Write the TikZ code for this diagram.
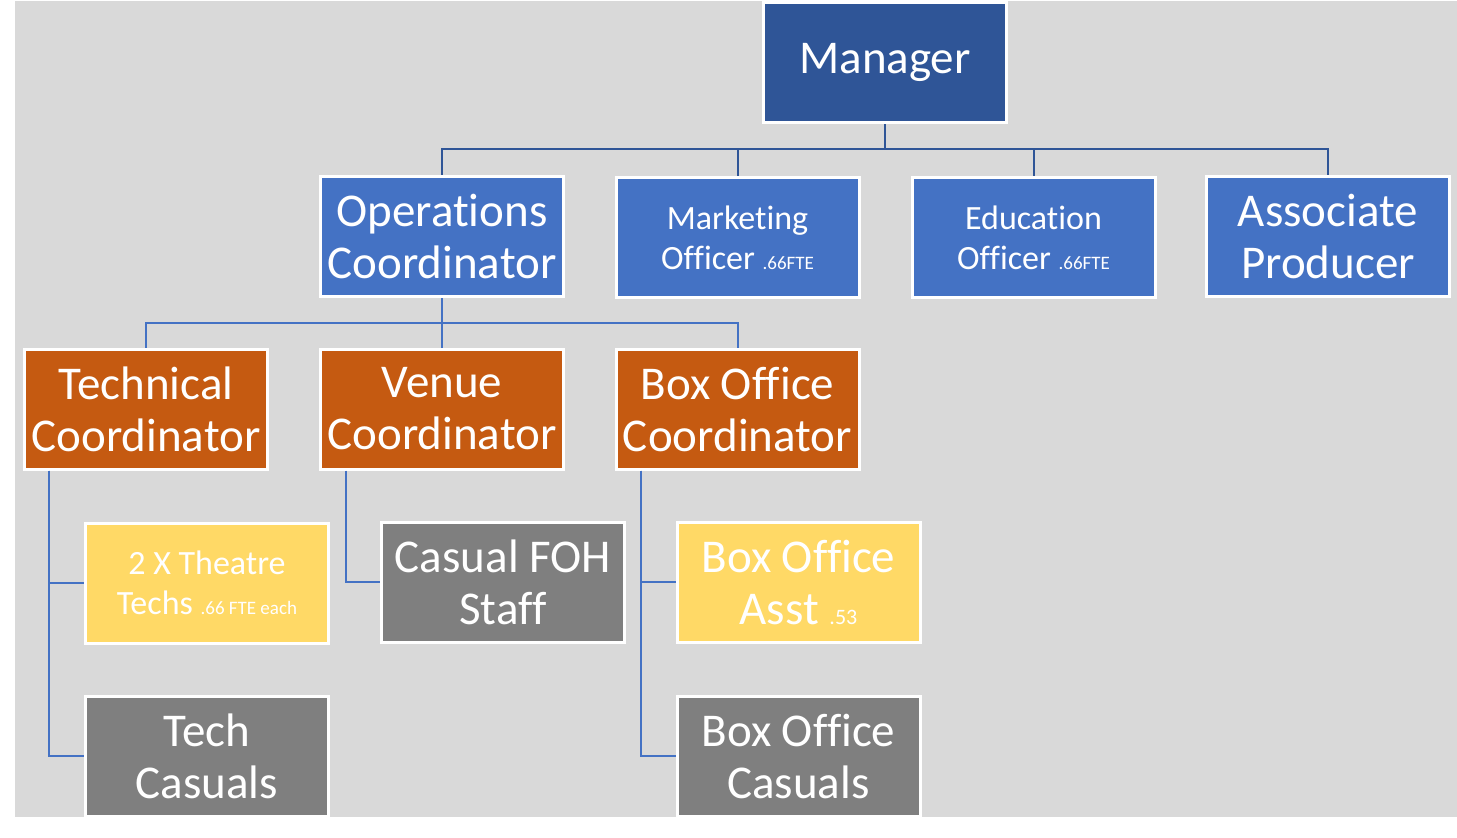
\documentclass[tikz,border=0pt]{standalone}
\usepackage{fontspec}
\setmainfont{Carlito}[Ligatures={NoCommon}]
\definecolor{bg}{HTML}{D9D9D9}
\definecolor{darkblue}{HTML}{2F5597}
\definecolor{midblue}{HTML}{4472C4}
\definecolor{rust}{HTML}{C55A11}
\definecolor{gold}{HTML}{FFD966}
\definecolor{greybox}{HTML}{7F7F7F}
\tikzset{
  box/.style={draw=white, line width=3pt, minimum width=243pt, minimum height=120pt,
    inner sep=0pt, align=center, text=white},
  big/.style={font=\fontsize{47}{52}\selectfont},
  small/.style={font=\fontsize{34}{40}\selectfont},
  link/.style={draw=midblue, line width=2pt},
  toplink/.style={draw=darkblue, line width=2pt}
}
\begin{document}
\begin{tikzpicture}[x=1pt,y=-1pt]
\useasboundingbox (0,0) rectangle (1457,838);
\fill[bg] (15,1) rectangle (1457,817);
% nodes
\node[box,big,fill=darkblue] (mgr) at (885,62.5) {Manager};
\node[box,big,fill=midblue] (ops) at (442,236.5) {Operations\\Coordinator};
\node[box,small,fill=midblue] (mkt) at (737.5,237.5) {Marketing\\Officer {\fontsize{19}{19}\selectfont .66FTE}};
\node[box,small,fill=midblue] (edu) at (1033.5,237.5) {Education\\Officer {\fontsize{19}{19}\selectfont .66FTE}};
\node[box,big,fill=midblue] (assoc) at (1328,236.5) {Associate\\Producer};
\node[box,big,fill=rust] (tech) at (146,409) {Technical\\Coordinator};
\node[box,big,fill=rust] (venue) at (442,409) {Venue\\Coordinator};
\node[box,big,fill=rust] (boxoff) at (737.5,409) {Box Office\\Coordinator};
\node[box,small,fill=gold] (theatre) at (207,583) {2 X Theatre\\Techs {\fontsize{19}{19}\selectfont .66 FTE each}};
\node[box,big,fill=greybox] (foh) at (503,582) {Casual FOH\\Staff};
\node[box,big,fill=gold] (boasst) at (798.5,582) {Box Office\\Asst {\fontsize{22}{22}\selectfont .53}};
\node[box,big,fill=greybox] (techcas) at (207,756) {Tech\\Casuals};
\node[box,big,fill=greybox] (bocas) at (798.5,756) {Box Office\\Casuals};
% connectors
\foreach \c in {ops,mkt,edu,assoc}
  \draw[toplink] (mgr.south) -- ++(0,25) -| (\c.north);
\foreach \c in {tech,venue,boxoff}
  \draw[link] (ops.south) -- ++(0,25) -| (\c.north);
\draw[link] ([xshift=-97pt]tech.south) |- (theatre.west);
\draw[link] ([xshift=-97pt]tech.south) |- (techcas.west);
\draw[link] ([xshift=-96pt]venue.south) |- (foh.west);
\draw[link] ([xshift=-96.5pt]boxoff.south) |- (boasst.west);
\draw[link] ([xshift=-96.5pt]boxoff.south) |- (bocas.west);
\end{tikzpicture}
\end{document}
